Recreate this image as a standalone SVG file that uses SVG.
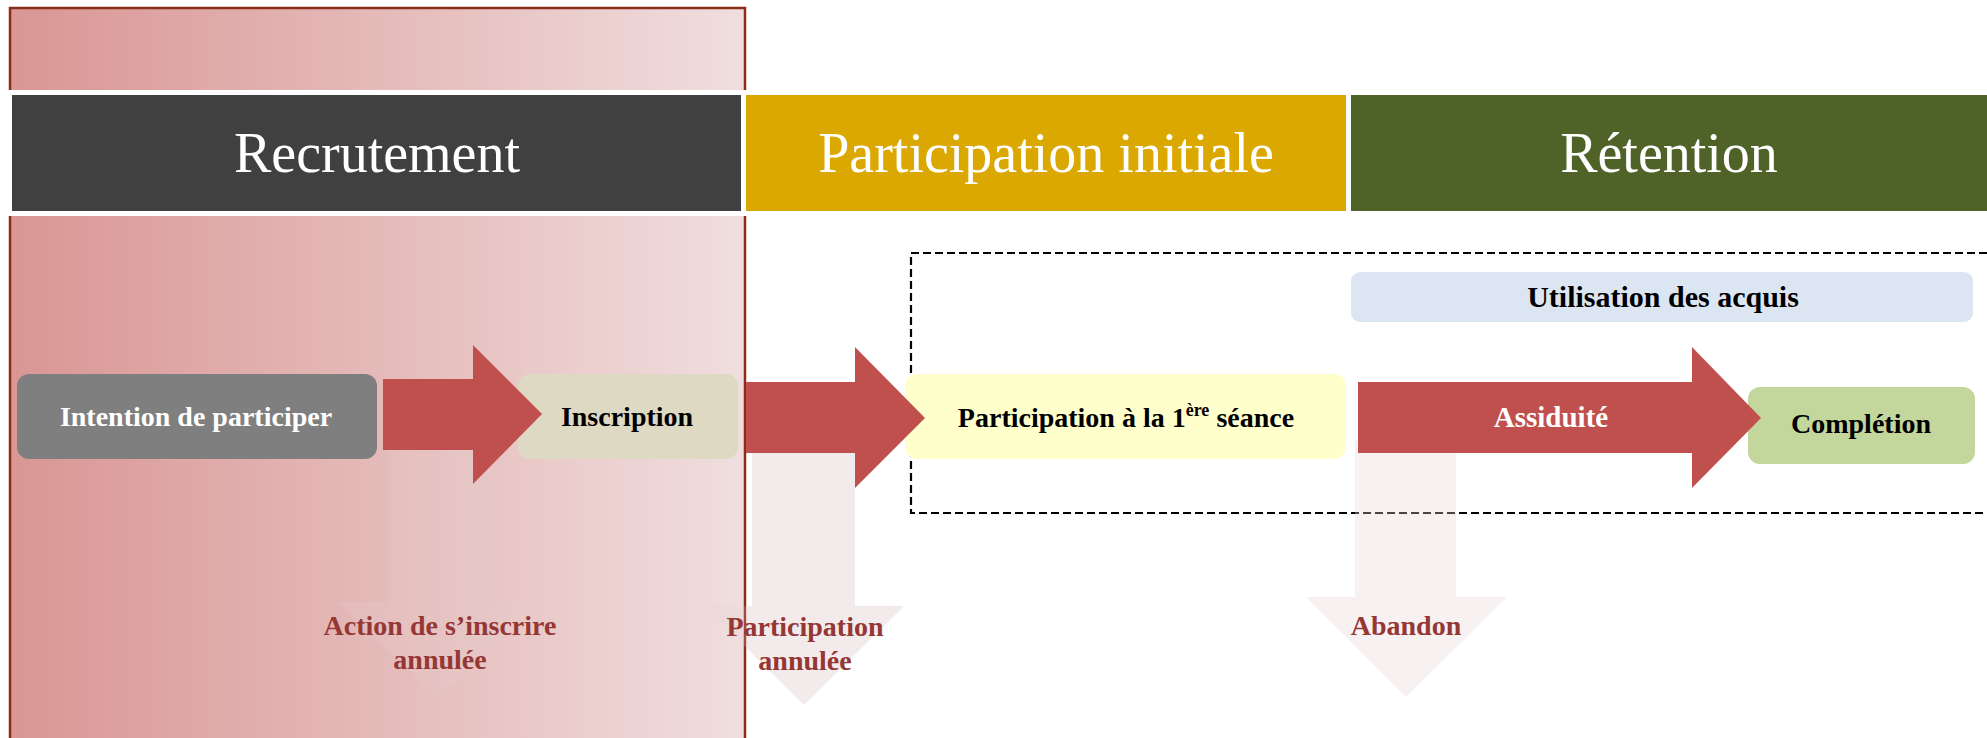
<svg xmlns="http://www.w3.org/2000/svg" width="1987" height="738" viewBox="0 0 1987 738">
<defs>
<linearGradient id="pinkGrad" x1="0" y1="0" x2="1" y2="0">
<stop offset="0" stop-color="#D99694"/>
<stop offset="1" stop-color="#F0DEDE"/>
</linearGradient>
<clipPath id="outsidePink">
<rect x="746" y="0" width="1241" height="738"/>
</clipPath>
</defs>
<style>
.hdr{font-family:"Liberation Serif","Times New Roman",serif;font-size:56px;fill:#FFFFFF;text-anchor:middle}
.lbl{font-family:"Liberation Serif","Times New Roman",serif;font-size:28px;font-weight:bold;text-anchor:middle}
.drop{font-family:"Liberation Serif","Times New Roman",serif;font-size:28px;font-weight:bold;fill:#953735;text-anchor:middle}
.flow{fill:#C0504D}
.fade{fill:#E6D2D2;fill-opacity:0.32}
.fade-in{fill:#E6D2D2;fill-opacity:0.2}
</style>
<rect x="0" y="0" width="1987" height="738" fill="#FFFFFF"/>
<g id="recrutement-zone">
<rect x="10" y="8" width="735" height="740" fill="url(#pinkGrad)" stroke="#8C2D19" stroke-width="2.5"/>
</g>
<rect x="0" y="90" width="1987" height="126" fill="#FFFFFF"/>
<g id="header-recrutement">
<rect x="12" y="95" width="729" height="116" fill="#404040"/>
<text class="hdr" x="377" y="172">Recrutement</text>
</g>
<g id="header-participation">
<rect x="746" y="95" width="600" height="116" fill="#DAA800"/>
<text class="hdr" x="1046" y="172">Participation initiale</text>
</g>
<g id="header-retention">
<rect x="1351" y="95" width="640" height="116" fill="#4F6228"/>
<text class="hdr" x="1669" y="172">Rétention</text>
</g>
<g id="retention-box">
<rect x="911" y="253" width="1090" height="260" fill="none" stroke="#000000" stroke-width="2.2" stroke-dasharray="8 4"/>
</g>
<g id="connectors">
<polygon class="fade-in" points="389,440 490,440 490,602 539,602 438,698 338,602 389,602"/>
<polygon class="fade-in" points="752,440 855,440 855,606 904,606 804,705 704,606 752,606"/>
<polygon class="fade" clip-path="url(#outsidePink)" points="752,440 855,440 855,606 904,606 804,705 704,606 752,606"/>
<polygon class="fade" points="1355,440 1456,440 1456,597 1507,597 1406,697 1306,597 1355,597"/>
</g>
<g id="node-utilisation">
<rect x="1351" y="272" width="622" height="50" rx="9" fill="#DCE6F2"/>
<text class="lbl" x="1663" y="307" fill="#000000" style="font-size:30px">Utilisation des acquis</text>
</g>
<g id="node-intention">
<rect x="17" y="374" width="360" height="85" rx="12" fill="#7F7F7F"/>
<text class="lbl" x="196" y="426" fill="#FFFFFF">Intention de participer</text>
</g>
<g id="node-inscription">
<rect x="518" y="374" width="220" height="85" rx="12" fill="#DDD9C3"/>
<text class="lbl" x="627" y="426" fill="#000000">Inscription</text>
</g>
<g id="node-participation">
<rect x="905" y="374" width="441" height="85" rx="12" fill="#FFFFCC"/>
<text class="lbl" x="1126" y="427" fill="#000000">Participation à la 1<tspan font-size="18" dy="-11">ère</tspan><tspan dy="11"> séance</tspan></text>
</g>
<g id="node-completion">
<rect x="1748" y="387" width="227" height="77" rx="12" fill="#C3D69B"/>
<text class="lbl" x="1861" y="433" fill="#000000">Complétion</text>
</g>
<g id="flow-arrows">
<polygon class="flow" points="383,379 473,379 473,345 542,414 473,484 473,450 383,450"/>
<polygon class="flow" points="746,382 855,382 855,347 925,418 855,488 855,453 746,453"/>
<polygon class="flow" points="1358,382 1692,382 1692,347 1761,418 1692,488 1692,453 1358,453"/>
<text class="lbl" x="1551" y="427" fill="#FFFFFF" style="font-size:29px">Assiduité</text>
</g>
<g id="drop-labels">
<text class="drop" x="440" y="635">Action de s’inscrire</text>
<text class="drop" x="440" y="669">annulée</text>
<text class="drop" x="805" y="636">Participation</text>
<text class="drop" x="805" y="670">annulée</text>
<text class="drop" x="1406" y="635">Abandon</text>
</g>
</svg>
